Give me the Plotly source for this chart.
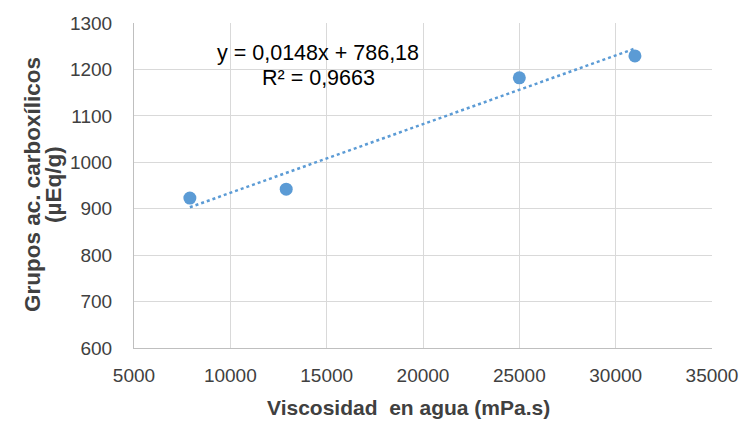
import plotly.graph_objects as go

# Measured samples
viscosidad = [7900, 12900, 25000, 31000]          # mPa.s
grupos_carboxilicos = [923, 942, 1182, 1229]      # µEq/g

# Linear trendline coefficients (as printed on the chart)
pendiente = 0.0148
intercepto = 786.18
r2 = 0.9663

x_ticks = [5000, 10000, 15000, 20000, 25000, 30000, 35000]
y_ticks = [600, 700, 800, 900, 1000, 1100, 1200, 1300]

blue = "#5B9BD5"
text_color = "#404040"
font_family = "Liberation Sans, Arial, sans-serif"

trend_x = [min(viscosidad), max(viscosidad)]
trend_y = [pendiente * v + intercepto for v in trend_x]

fig = go.Figure()
fig.add_trace(go.Scatter(
    x=trend_x, y=trend_y, mode="lines",
    line=dict(color=blue, width=2.5, dash="dot"),
    hoverinfo="skip", showlegend=False,
))
fig.add_trace(go.Scatter(
    x=viscosidad, y=grupos_carboxilicos, mode="markers",
    marker=dict(color=blue, size=13),
    showlegend=False,
))

eq_text = f"y = {pendiente:.4f}x + {intercepto:.2f}".replace(".", ",")
r2_text = f"R² = {r2:.4f}".replace(".", ",")

eq_font = dict(family=font_family, size=21.5, color="#000000")
fig.add_annotation(x=0.319, y=0.907, xref="paper", yref="paper",
                   text=eq_text, showarrow=False, xanchor="center", yanchor="middle",
                   font=eq_font)
fig.add_annotation(x=0.319, y=0.830, xref="paper", yref="paper",
                   text=r2_text, showarrow=False, xanchor="center", yanchor="middle",
                   font=eq_font)

# Axis titles
title_font = dict(family=font_family, size=22.5, color=text_color)
fig.add_annotation(x=0, y=0.5015, xref="paper", yref="paper", xshift=-102,
                   text="<b>Grupos ac. carboxílicos</b>", textangle=-90,
                   showarrow=False, xanchor="center", yanchor="middle",
                   font=title_font)
fig.add_annotation(x=0, y=0.5015, xref="paper", yref="paper", xshift=-81,
                   text="<b>(µEq/g)</b>", textangle=-90,
                   showarrow=False, xanchor="center", yanchor="middle",
                   font=title_font)
fig.add_annotation(x=0.475, y=0, xref="paper", yref="paper", yshift=-59,
                   text="<b>Viscosidad\u00a0 en agua (mPa.s)</b>",
                   showarrow=False, xanchor="center", yanchor="middle",
                   font=dict(family=font_family, size=21, color=text_color))

fig.update_layout(
    width=750, height=421,
    margin=dict(l=134, r=33, t=23, b=73),
    paper_bgcolor="white", plot_bgcolor="white",
    font=dict(family=font_family, size=19, color=text_color),
    xaxis=dict(
        range=[5000, 35000], tickvals=x_ticks, ticktext=[str(v) for v in x_ticks],
        showgrid=True, gridcolor="#D9D9D9", gridwidth=1,
        showline=True, linecolor="#BFBFBF", linewidth=1,
        zeroline=False, ticks="", ticklabelstandoff=10,
    ),
    yaxis=dict(
        range=[600, 1300], tickvals=y_ticks, ticktext=[str(v) for v in y_ticks],
        showgrid=True, gridcolor="#D9D9D9", gridwidth=1,
        showline=True, linecolor="#BFBFBF", linewidth=1,
        zeroline=False, ticks="", ticklabelstandoff=17,
    ),
)

fig.write_html("out.html")
